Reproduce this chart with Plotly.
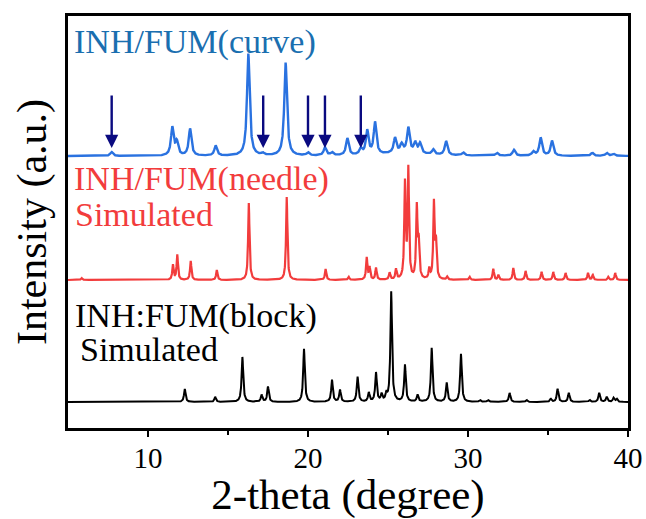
import numpy as np
import plotly.graph_objects as go

# ---- data (peak position in 2-theta, peak height in a.u.) ----
block_pos = [12.3, 14.2, 15.9, 17.1, 17.5, 19.75, 21.5, 22.0, 23.1, 23.8, 24.25, 24.6, 24.9,
             25.2, 26.06, 26.85, 27.73, 28.67, 29.56, 30.75, 31.25, 32.6, 33.66, 35.17,
             35.6, 36.3, 37.6, 38.2, 38.67, 39.1, 39.3]
block_int = [13, 5, 45, 7, 15, 53, 22, 12, 25, 9, 29, 7, 7,
             110, 37, 7, 54, 19, 48, 2, 2, 9, 2, 3,
             13, 9, 2, 9, 5, 4, 3]

needle_pos = [5.85, 11.56, 11.83, 12.67, 14.3, 16.3, 18.67, 21.1, 22.54, 23.67, 23.85, 24.25,
              25.1, 25.5, 26.06, 26.27, 26.8, 26.92, 27.58, 27.87, 28.0, 28.7, 30.1, 31.58,
              31.9, 32.83, 33.6, 34.6, 35.33, 36.1, 37.5, 37.8, 38.77, 39.2]
needle_int = [2, 15, 25, 19, 10, 77, 83, 11, 3, 22, 12, 12,
              7, 10, 95, 109, 71, 35, 10, 76, 35, 3, 3, 11,
              5, 12, 9, 8, 8, 7, 7, 5, 3, 7]

curve_pos = [7.73, 11.52, 11.8, 12.63, 14.23, 16.27, 17.17, 18.6, 20.0, 21.06, 21.5, 22.46,
             23.3, 23.7, 24.19, 25.44, 25.85, 26.27, 26.7, 27.0, 27.83, 28.63, 29.7, 31.8,
             32.87, 34.08, 34.54, 35.25, 37.77, 38.67, 39.1, 26.0]
curve_int = [4, 28, 13, 27, 10, 102, 2, 93, 3, 8, 3, 17,
             6, 24, 32, 15, 8, 25, 10, 10, 5, 14, 3, 3,
             6, 4, 18, 15, 3, 3, 2, 3]
curve_wid = [0.2] * 31 + [3.0]

arrow_pos = [7.73, 17.2, 20.0, 21.06, 23.3]

block_label = ["INH:FUM(block)", "Simulated"]
needle_label = ["INH/FUM(needle)", "Simulated"]
curve_label = "INH/FUM(curve)"
x_ticks = [10, 20, 30, 40]
x_minor_ticks = [15, 25, 35]

# ---- build profiles ----
x = np.linspace(5, 40, 3501)


def profile(pos, inten, fwhm):
    y = np.zeros_like(x)
    if np.isscalar(fwhm):
        fwhm = [fwhm] * len(pos)
    for p, h, w in zip(pos, inten, fwhm):
        g = w / 2.0
        y += h * g * g / ((x - p) ** 2 + g * g)
    return y


block_y = 26 + profile(block_pos, block_int, 0.12)
needle_y = 148 + profile(needle_pos, needle_int, 0.1)
curve_y = 272 + profile(curve_pos, curve_int, curve_wid)

FONT = "Liberation Serif"

fig = go.Figure()
fig.add_trace(go.Scatter(x=x, y=block_y, mode="lines", line=dict(color="#000000", width=2),
                         showlegend=False, hoverinfo="skip"))
fig.add_trace(go.Scatter(x=x, y=needle_y, mode="lines", line=dict(color="#f23c3c", width=2.2),
                         showlegend=False, hoverinfo="skip"))
fig.add_trace(go.Scatter(x=x, y=curve_y, mode="lines", line=dict(color="#2a72e0", width=2.4),
                         showlegend=False, hoverinfo="skip"))

annotations = []
for p in arrow_pos:
    annotations.append(dict(x=p, y=280, ax=p, ay=334, xref="x", yref="y", axref="x", ayref="y",
                            showarrow=True, arrowhead=2, arrowsize=1.1, arrowwidth=2.4,
                            arrowcolor="#0a0a80", text=""))


def label(text, xpx, ypx, color):
    annotations.append(dict(text=text, x=xpx, y=ypx, xref="paper", yref="paper",
                            xanchor="left", yanchor="middle", showarrow=False,
                            font=dict(family=FONT, size=34, color=color)))


# positions in paper coords: plot area 68..628 x, 16..428 y
def px(xp):
    return (xp - 68) / 560.0


def py(yp):
    return (428 - yp) / 412.0


label(curve_label, px(72), py(42), "#1a6fb0")
label(needle_label[0], px(72), py(179), "#f23c3c")
label(needle_label[1], px(73), py(214), "#f23c3c")
label(block_label[0], px(73), py(316), "#000000")
label(block_label[1], px(78), py(349), "#000000")

fig.update_layout(
    width=646, height=519,
    margin=dict(l=68, r=18, t=16, b=91, autoexpand=False),
    paper_bgcolor="white", plot_bgcolor="white",
    annotations=annotations,
    xaxis=dict(range=[5, 40], tickvals=x_ticks, ticks="outside", ticklen=6, tickwidth=2,
               tickcolor="black", showline=True, linecolor="black", linewidth=3, mirror=True,
               showgrid=False, zeroline=False, automargin=False, ticklabelstandoff=-4,
               minor=dict(tickvals=x_minor_ticks, ticks="outside", ticklen=4, tickwidth=2,
                          tickcolor="black", showgrid=False),
               tickfont=dict(family=FONT, size=29, color="black"),
               title=dict(text="2-theta (degree)", font=dict(family=FONT, size=43, color="black"),
                          standoff=0)),
    yaxis=dict(range=[0, 412], showticklabels=False, ticks="", showline=True, linecolor="black",
               linewidth=3, mirror=True, showgrid=False, zeroline=False, automargin=False,
               title=dict(text="Intensity (a.u.)", font=dict(family=FONT, size=42, color="black"),
                          standoff=6)),
)

fig.write_html("out.html")
